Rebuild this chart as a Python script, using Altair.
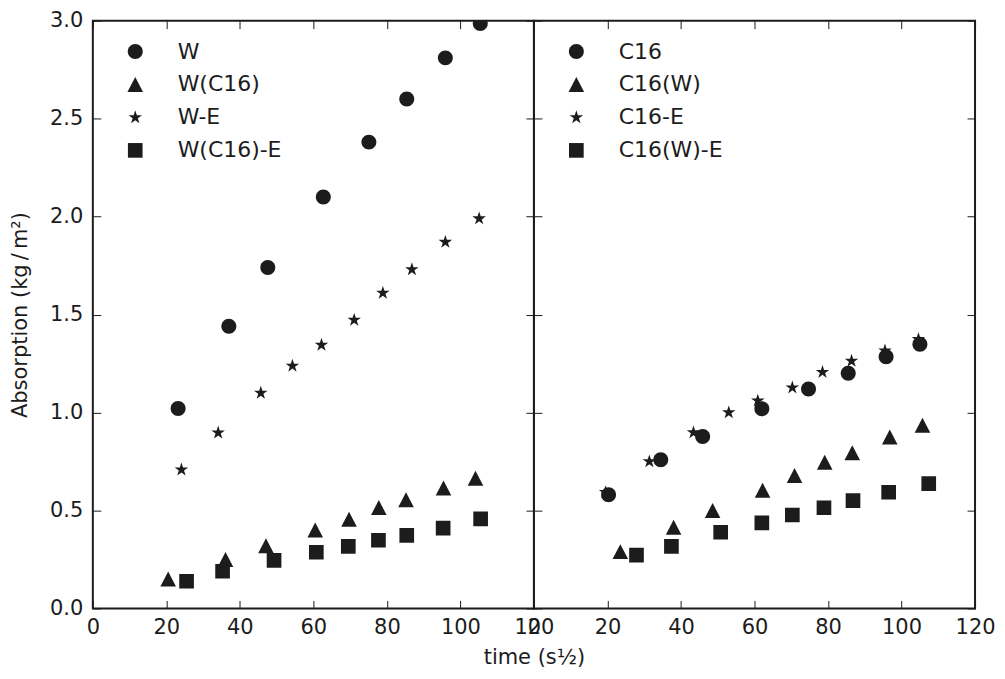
import math
import altair as alt
import pandas as pd

INK = "#1c1c1c"
FONT = "DejaVu Sans"

# ---------------- data ----------------
W_t = [23.2, 37.0, 47.6, 62.7, 75.1, 85.4, 95.9, 105.4]
W_a = [1.02, 1.44, 1.74, 2.10, 2.38, 2.60, 2.81, 2.985]
WC16_t = [20.5, 36.1, 47.1, 60.5, 69.7, 77.8, 85.2, 95.4, 104.1]
WC16_a = [0.15, 0.25, 0.32, 0.40, 0.455, 0.515, 0.555, 0.615, 0.665]
WE_t = [24.1, 34.1, 45.7, 54.3, 62.2, 71.1, 78.9, 86.8, 95.9, 105.1]
WE_a = [0.708, 0.897, 1.10, 1.238, 1.345, 1.472, 1.61, 1.73, 1.87, 1.99]
WC16E_t = [25.5, 35.3, 49.3, 60.8, 69.5, 77.7, 85.4, 95.3, 105.5]
WC16E_a = [0.139, 0.19, 0.245, 0.287, 0.317, 0.348, 0.373, 0.41, 0.457]

C16_t = [20.3, 34.5, 45.9, 62.0, 74.7, 85.5, 95.8, 105.0]
C16_a = [0.58, 0.759, 0.878, 1.019, 1.12, 1.20, 1.285, 1.348]
C16W_t = [23.5, 38.0, 48.6, 62.2, 70.9, 79.1, 86.6, 96.8, 105.7]
C16W_a = [0.29, 0.415, 0.50, 0.603, 0.678, 0.746, 0.795, 0.875, 0.935]
C16E_t = [19.5, 31.4, 43.4, 53.0, 60.9, 70.3, 78.5, 86.4, 95.5, 104.6]
C16E_a = [0.593, 0.75, 0.898, 1.0, 1.06, 1.127, 1.206, 1.263, 1.316, 1.374]
C16WE_t = [27.9, 37.4, 50.8, 62.0, 70.3, 78.9, 86.8, 96.5, 107.4]
C16WE_a = [0.272, 0.317, 0.389, 0.437, 0.477, 0.514, 0.55, 0.593, 0.637]

LEFT_SERIES = ["W", "W(C16)", "W-E", "W(C16)-E"]
RIGHT_SERIES = ["C16", "C16(W)", "C16-E", "C16(W)-E"]

X_TICKS = [0, 20, 40, 60, 80, 100, 120]
Y_TICKS = [0.0, 0.5, 1.0, 1.5, 2.0, 2.5, 3.0]

X_TITLE = "time (s½)"
Y_TITLE = "Absorption (kg\u2009/\u2009m²)"


def frame(series, ts, ays):
    rows = []
    for s, t, a in zip(series, ts, ays):
        for ti, ai in zip(t, a):
            rows.append({"series": s, "t": ti, "a": ai})
    return pd.DataFrame(rows)


left_df = frame(LEFT_SERIES, [W_t, WC16_t, WE_t, WC16E_t], [W_a, WC16_a, WE_a, WC16E_a])
right_df = frame(RIGHT_SERIES, [C16_t, C16W_t, C16E_t, C16WE_t], [C16_a, C16W_a, C16E_a, C16WE_a])

# ---------------- marker shapes (unit box -1..1) ----------------
k = 0.5523
CIRCLE = (f"M -1 0 C -1 -{k} -{k} -1 0 -1 C {k} -1 1 -{k} 1 0 "
          f"C 1 {k} {k} 1 0 1 C -{k} 1 -1 {k} -1 0 Z")
TRIANGLE = "M 0 -1 L 1.04 1 L -1.04 1 Z"
SQUARE = "M -0.98 -0.98 L 0.98 -0.98 L 0.98 0.98 L -0.98 0.98 Z"


def star_path(R=0.95, ratio=0.381966):
    pts = []
    for i in range(10):
        ang = math.radians(-90 + 36 * i)
        rad = R if i % 2 == 0 else R * ratio
        pts.append(f"{rad * math.cos(ang):.4f} {rad * math.sin(ang):.4f}")
    return "M " + " L ".join(pts) + " Z"


STAR = star_path()
SHAPES = [CIRCLE, TRIANGLE, STAR, SQUARE]

W_PANEL = 442
H_PANEL = 589
XS = alt.Scale(domain=[0, 120], nice=False, zero=False)
YS = alt.Scale(domain=[0, 3.0], nice=False)
TICK_LEN = 8


def tick_axis(orient, values):
    return alt.Axis(orient=orient, offset=-TICK_LEN, values=values, labels=False,
                    ticks=True, tickSize=TICK_LEN, tickColor=INK, tickWidth=1,
                    domain=False, grid=False, title=None)


def panel(df, series, is_left):
    base = alt.Chart(df)
    x_axis_kw = dict(
        orient="bottom", values=X_TICKS, format="d", ticks=False, domain=False,
        grid=False, labelFontSize=21, labelFont=FONT, labelColor=INK,
        labelPadding=8, labelFlush=False, labelOverlap=False)
    if is_left:
        x_axis_kw.update(title=X_TITLE, titleX=W_PANEL, titleY=55,
                         titleAlign="center", titleBaseline="alphabetic",
                         titleAnchor="middle", titleFontSize=21, titleFont=FONT,
                         titleFontWeight="normal", titleColor=INK)
    else:
        x_axis_kw.update(title=None)
    pts = base.mark_point(filled=True, size=225, opacity=1, color=INK,
                          strokeWidth=0, clip=True).encode(
        x=alt.X("t:Q", scale=XS, axis=alt.Axis(**x_axis_kw)),
        y=alt.Y("a:Q", scale=YS, axis=alt.Axis(
            orient="left", values=Y_TICKS, format=".1f", ticks=False, domain=False,
            grid=False, labels=is_left, labelFontSize=21, labelFont=FONT,
            labelColor=INK, labelPadding=10, labelFlush=False, labelOverlap=False,
            title=Y_TITLE if is_left else None,
            titleFontSize=21, titleFont=FONT, titleFontWeight="normal",
            titleColor=INK, titlePadding=19)),
        shape=alt.Shape("series:N", sort=series,
                        scale=alt.Scale(domain=series, range=SHAPES),
                        legend=alt.Legend(
                            orient="none", legendX=31.5, legendY=20, title=None,
                            symbolSize=225, symbolFillColor=INK, symbolStrokeWidth=0,
                            symbolOpacity=1, labelFontSize=22, labelFont=FONT,
                            labelColor=INK, labelOffset=31.5, rowPadding=11,
                            padding=0, labelLimit=300)),
    )
    ticks_a = base.mark_point(opacity=0).encode(
        x=alt.X("t:Q", scale=XS, axis=tick_axis("bottom", X_TICKS)),
        y=alt.Y("a:Q", scale=YS, axis=tick_axis("left", Y_TICKS)),
    )
    ticks_b = base.mark_point(opacity=0).encode(
        x=alt.X("t:Q", scale=XS, axis=tick_axis("top", X_TICKS)),
        y=alt.Y("a:Q", scale=YS, axis=tick_axis("right", Y_TICKS)),
    )
    return alt.layer(pts, ticks_a, ticks_b).resolve_axis(
        x="independent", y="independent").properties(width=W_PANEL, height=H_PANEL)


left = panel(left_df, LEFT_SERIES, True)
right = panel(right_df, RIGHT_SERIES, False)

chart = alt.hconcat(left, right, spacing=0, bounds="flush").resolve_scale(
    shape="independent").resolve_legend(shape="independent").properties(
    padding={"left": 0, "top": 0, "right": 0, "bottom": 0},
    background="white",
).configure_view(stroke=INK, strokeWidth=2)

chart.save("out.html", embed_options={"renderer": "svg", "actions": False})
